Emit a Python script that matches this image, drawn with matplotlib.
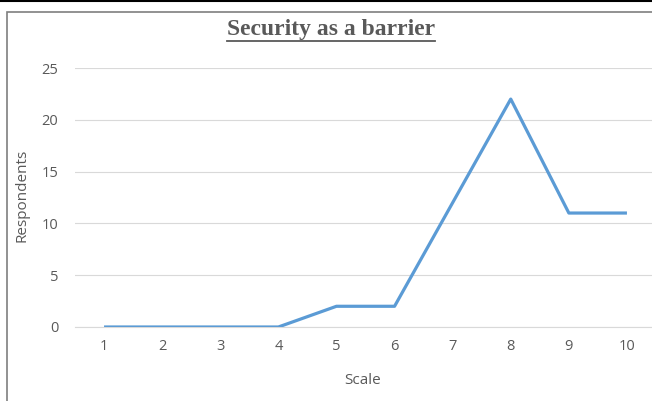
import matplotlib
matplotlib.use("Agg")
import matplotlib.pyplot as plt
from matplotlib.lines import Line2D
from matplotlib.patches import Rectangle

scale = [1, 2, 3, 4, 5, 6, 7, 8, 9, 10]
respondents = [0, 0, 0, 0, 2, 2, 12, 22, 11, 11]
yticks = [0, 5, 10, 15, 20, 25]

W, H = 652, 401
fig = plt.figure(figsize=(W / 100, H / 100), dpi=100)
grey = "#595959"

# plot area in pixel coordinates
left, right, top, bottom = 75, 656, 68, 327
ax = fig.add_axes([left / W, 1 - bottom / H, (right - left) / W, (bottom - top) / H])
ax.plot(scale, respondents, color="#5B9BD5", lw=2.3, solid_capstyle="butt", zorder=3)
ax.set_xlim(0.5, 10.5)
ax.set_ylim(0, 25)
ax.set_yticks(yticks)
ax.set_xticks(scale)
ax.grid(axis="y", color="#D9D9D9", lw=0.8)
ax.set_axisbelow(True)
for s in ["top", "right", "left"]:
    ax.spines[s].set_visible(False)
ax.spines["bottom"].set_color("#D9D9D9")
ax.spines["bottom"].set_linewidth(0.8)
ax.tick_params(length=0, colors=grey, labelsize=10.5, pad=9)
ax.tick_params(axis="y", pad=12)
for lbl in ax.get_xticklabels() + ax.get_yticklabels():
    lbl.set_fontfamily("Open Sans")

fig.text(363 / W, 1 - 380 / H, "Scale", ha="center", va="center",
         color=grey, fontsize=11, family="Open Sans")
fig.text(22 / W, 1 - 195 / H, "Respondents", ha="center", va="center",
         rotation=90, color=grey, fontsize=11, family="Open Sans")

title = fig.text(331 / W, 1 - 30 / H, "Security as a barrier", ha="center",
                 va="center", color=grey, fontsize=17, fontweight="bold",
                 family="Liberation Serif")
fig.canvas.draw()
bb = title.get_window_extent()
uy = (bb.y0 - 0.5) / H
fig.add_artist(Line2D([bb.x0 / W, bb.x1 / W], [uy, uy], color=grey, lw=1.3,
                      transform=fig.transFigure))

# outer frame and top edge
fig.add_artist(Rectangle((7 / W, -0.1), 1.1, (H - 12) / H + 0.1, fill=False,
                         edgecolor="#7F7F7F", lw=1.2, transform=fig.transFigure))
fig.add_artist(Line2D([0, 1], [1 - 0.5 / H, 1 - 0.5 / H], color="black", lw=1.5,
                      transform=fig.transFigure))

fig.savefig("out.png", dpi=100)
